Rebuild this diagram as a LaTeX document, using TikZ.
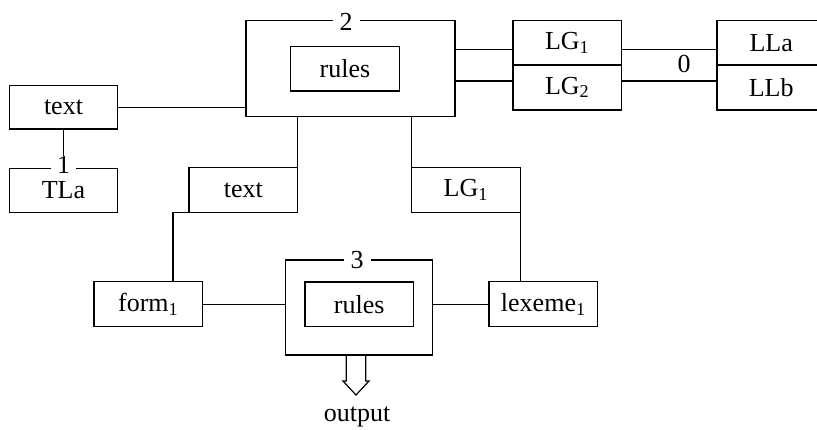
\documentclass[tikz,border=0pt]{standalone}
\usepackage{fontspec}
\setmainfont{Liberation Serif}
\usetikzlibrary{calc}
\begin{document}
\begin{tikzpicture}[x=1pt,y=-1pt,
  every node/.style={font=\fontsize{26}{31}\selectfont},
  lnk/.style={line width=1.2pt},
  bx/.style={draw,line width=1.2pt,rectangle,inner sep=0pt,outer sep=0pt,
    minimum width=108.6pt,minimum height=44.5pt},
  frame/.style={draw,line width=1.2pt,rectangle,inner sep=0pt,outer sep=0pt},
  tag/.style={fill=white,inner xsep=7pt,inner ysep=0pt,outer sep=0pt}]
\useasboundingbox (0,0) rectangle (817,429);

% module 2 with its rule box
\node[frame,minimum width=209pt,minimum height=96pt] (m2) at (350.5,68.8) {};
\node[bx] (r2) at (345,68.7) {rules};
\node[tag] (n2) at (346,22) {2};

% module 3 with its rule box
\node[frame,minimum width=146.3pt,minimum height=95pt] (m3) at (359,307.5) {};
\node[bx] (r3) at (359.2,304.2) {rules};
\node[tag] (n3) at (357,260.5) {3};

% left column
\node[bx,minimum height=43.3pt] (txtL) at (63.5,107.3) {text};
\node[bx] (tla) at (63.5,190.5) {\raisebox{-1.5pt}{TLa}};
\node[tag,inner xsep=6pt] (n1) at (63.5,164.5) {1};

% lexical group pair and language pair
\node[bx,minimum height=44.3pt] (lg1) at (567.2,42.8) {LG\textsubscript{1}};
\node[bx,minimum height=45pt] (lg2) at (567.2,87.5) {LG\textsubscript{2}};
\node[bx,minimum height=44.3pt] (lla) at (771.2,42.8) {LLa};
\node[bx,minimum height=45pt] (llb) at (771.2,87.5) {LLb};
\node (n0) at (684,64) {0};

% middle row
\node[bx] (txtM) at (243.3,190) {text};
\node[bx,minimum height=44.3pt] (lgM) at (465.8,190) {LG\textsubscript{1}};

% bottom row
\node[bx,minimum height=45pt] (form) at (148.2,304.2) {form\textsubscript{1}};
\node[bx,minimum height=45pt] (lex) at (543.3,304.2) {lexeme\textsubscript{1}};
\node (out) at (357,417) {output};

% connectors
\draw[lnk] (txtL.east) -- (txtL.east -| m2.west);
\draw[lnk] (txtL.south) -- (txtL.south |- n1.north);
\draw[lnk] (m2.south -| txtM.north east) -- (txtM.north east);
\coordinate (fk) at (173,281.7);
\draw[lnk] (txtM.south west) -| (fk);
\draw[lnk] (m2.south -| lgM.north west) -- (lgM.north west);
\draw[lnk] (lgM.south east) -- (lgM.south east |- lex.north);
\draw[lnk] (form.east) -- (form.east -| m3.west);
\draw[lnk] (m3.east |- lex.west) -- (lex.west);
\coordinate (ya) at (0,49.3);
\coordinate (yb) at (0,81);
\draw[lnk] (m2.east |- ya) -- (lg1.west |- ya);
\draw[lnk] (m2.east |- yb) -- (lg2.west |- yb);
\draw[lnk] (lg1.east |- ya) -- (lla.west |- ya);
\draw[lnk] (lg2.east |- yb) -- (llb.west |- yb);

% hollow output arrow
\coordinate (ot) at (356,355);
\draw[lnk,line join=miter]
  ($(ot)+(-9.7,0)$) -- ++(0,26) -- ++(-3.3,0) -- ($(ot)+(0,40)$)
  -- ($(ot)+(13,26)$) -- ++(-3.3,0) -- ($(ot)+(9.7,0)$);
\end{tikzpicture}
\end{document}
